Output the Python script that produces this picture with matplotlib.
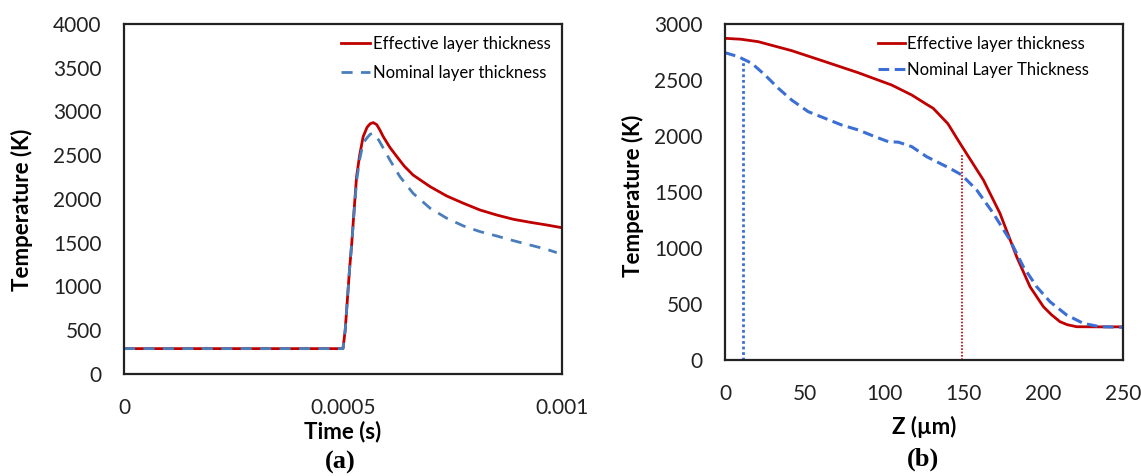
#!/usr/bin/env python3

import matplotlib
matplotlib.use("Agg")
import matplotlib.pyplot as plt

# (a) temperature vs time
time_eff = [0, 0.0005, 0.000505, 0.00051, 0.000515, 0.00052, 0.000525, 0.000531, 0.000538,
            0.000546, 0.000555, 0.000562, 0.000569, 0.000577, 0.000584, 0.000592, 0.000607,
            0.000623, 0.00064, 0.00066, 0.000699, 0.000737, 0.000775, 0.000813, 0.000851,
            0.000889, 0.000927, 0.000965, 0.001]
temp_eff = [290, 290, 500, 850, 1200, 1494, 1850, 2255, 2500,
            2712, 2820, 2860, 2873, 2850, 2790, 2712, 2590,
            2484, 2375, 2274, 2141, 2034, 1951, 1874, 1817,
            1768, 1734, 1703, 1672]

time_nom = [0, 0.0005, 0.000505, 0.00051, 0.000515, 0.00052, 0.000525, 0.000531, 0.000538,
            0.000546, 0.000555, 0.000562, 0.000568, 0.000575, 0.000582, 0.000588, 0.000607,
            0.00063, 0.00066, 0.000699, 0.000737, 0.000775, 0.000813, 0.000851, 0.000889,
            0.000927, 0.000965, 0.000988]
temp_nom = [290, 290, 500, 850, 1200, 1494, 1830, 2200, 2450,
            2640, 2700, 2740, 2751, 2720, 2670, 2617, 2446,
            2255, 2065, 1894, 1780, 1692, 1627, 1577, 1524,
            1474, 1425, 1387]

# (b) temperature vs depth
z_eff = [0, 10, 20.9, 41.9, 62.8, 83.7, 104.7, 117.3, 125.6, 130.8, 140, 147.6, 155, 162.3,
         172.7, 183.2, 191.6, 200, 205, 210.4, 215, 220.9, 235, 250]
tz_eff = [2872, 2864, 2842, 2762, 2664, 2565, 2455, 2366, 2292, 2247, 2110, 1935, 1770, 1607,
          1310, 922, 654, 476, 405, 342, 315, 297, 296, 296]

z_nom = [0, 8.4, 16.8, 25.1, 33.5, 41.9, 52.3, 62.8, 73.3, 83.7, 94.2, 102.6, 108.9, 117.3,
         126.7, 141.3, 148.7, 158.1, 168.5, 179, 187.4, 195.8, 204.1, 214.6, 225.1, 235.5, 250]
tz_nom = [2744, 2708, 2649, 2545, 2426, 2321, 2217, 2158, 2098, 2054, 1994, 1949, 1945, 1905,
          1815, 1711, 1652, 1518, 1310, 1071, 833, 654, 521, 402, 327, 297, 292]

# dotted markers of layer thickness (z, top temperature)
nom_mark = (11.5, 2690)
eff_mark = (149, 1839)

RED = "#c00000"
BLUE_A = "#4a7ebb"
BLUE_B = "#3b6fd4"

plt.rcParams['font.family'] = ['Lato', 'DejaVu Sans']

fig = plt.figure(figsize=(11.41, 4.76), dpi=100)
ax1 = fig.add_axes([124 / 1141, 102 / 476, 438 / 1141, 350 / 476])
ax2 = fig.add_axes([725 / 1141, 116 / 476, 398 / 1141, 336 / 476])

ax1.plot(time_eff, temp_eff, color=RED, lw=2, label='Effective layer thickness')
ax1.plot(time_nom, temp_nom, color=BLUE_A, lw=2, ls=(0, (4, 3)), label='Nominal layer thickness')
ax1.set_xlim(0, 0.001)
ax1.set_ylim(0, 4000)
ax1.set_yticks(range(0, 4001, 500))
ax1.set_xticks([0, 0.0005, 0.001], ['0', '0.0005', '0.001'])
ax1.set_xlabel('Time (s)', fontsize=16, fontweight='bold')
ax1.set_ylabel('Temperature (K)', fontsize=16, fontweight='bold')
ax1.xaxis.set_label_coords(0.5, -0.134)
ax1.yaxis.set_label_coords(-0.208, 0.47)

ax2.plot(z_eff, tz_eff, color=RED, lw=2, label='Effective layer thickness')
ax2.plot(z_nom, tz_nom, color=BLUE_B, lw=2.2, ls=(0, (3.5, 1.8)), label='Nominal Layer Thickness')
ax2.plot([nom_mark[0], nom_mark[0]], [0, nom_mark[1]], color=BLUE_B, lw=2, ls=(0, (1, 1)))
ax2.plot([eff_mark[0], eff_mark[0]], [0, eff_mark[1]], color=RED, lw=1.2, ls=(0, (1, 1)))
ax2.set_xlim(0, 250)
ax2.set_ylim(0, 3000)
ax2.set_yticks(range(0, 3001, 500))
ax2.set_xticks(range(0, 251, 50))
ax2.set_xlabel('Z (µm)', fontsize=16, fontweight='bold')
ax2.set_ylabel('Temperature (K)', fontsize=16, fontweight='bold')
ax2.xaxis.set_label_coords(0.5, -0.167)
ax2.yaxis.set_label_coords(-0.204, 0.49)

for ax in (ax1, ax2):
    for sp in ax.spines.values():
        sp.set_linewidth(1.6)
        sp.set_color('#222222')
    ax.tick_params(axis='both', length=0, labelsize=15, colors='#222222')
    ax.tick_params(axis='x', pad=17)
    ax.tick_params(axis='y', pad=16)

ax1.legend(loc='upper right', frameon=False, fontsize=12, handlelength=1.75,
           handletextpad=0.15, labelspacing=0.8, borderaxespad=0.3)
ax2.legend(loc='upper right', bbox_to_anchor=(1 - 22 / 398, 1), frameon=False, fontsize=12,
           handlelength=1.6, handletextpad=0.15, labelspacing=0.62, borderaxespad=0.3)

fig.text(340 / 1141, 1 - 462 / 476, '(a)', fontsize=19, fontweight='bold',
         family='Liberation Serif', ha='center', va='center')
fig.text(923 / 1141, 1 - 459 / 476, '(b)', fontsize=19, fontweight='bold',
         family='Liberation Serif', ha='center', va='center')

fig.savefig('out.png', dpi=100)
